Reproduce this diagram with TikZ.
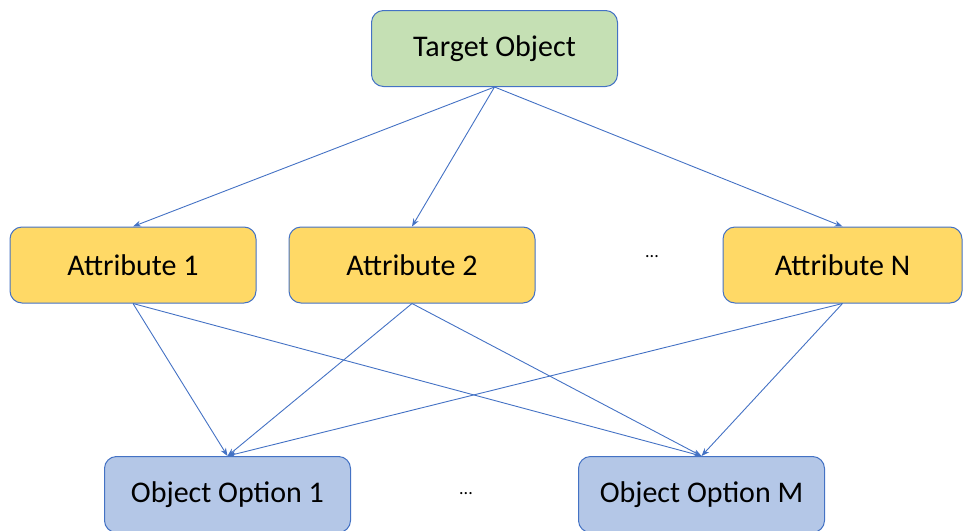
\documentclass[tikz,border=0pt]{standalone}
\usepackage{fontspec}
\setmainfont{Carlito}
\usetikzlibrary{arrows.meta}
\definecolor{boxline}{HTML}{4472C4}
\definecolor{greenfill}{HTML}{C5E0B4}
\definecolor{yellowfill}{HTML}{FFD966}
\definecolor{bluefill}{HTML}{B4C7E7}
\begin{document}
\begin{tikzpicture}[x=1pt,y=-1pt,
        box/.style={draw=boxline,line width=1pt,rounded corners=12pt,minimum width=246pt,minimum height=76pt,inner sep=0pt,font=\fontsize{30}{34}\selectfont},
        link/.style={draw=boxline,line width=0.9pt,-{Stealth[length=8pt,width=6pt]}}]
        \useasboundingbox (0,0) rectangle (963,530);
        \node [box,fill=greenfill] (target) at (494.5,48.5) {Target Object};
        \node [box,fill=yellowfill] (attr1) at (133,265) {Attribute 1};
        \node [box,fill=yellowfill] (attr2) at (412,265) {Attribute 2};
        \node [box,fill=yellowfill,minimum width=239pt] (attrN) at (842.5,265) {Attribute N};
        \node [font=\fontsize{18}{20}\selectfont] (dotsA) at (652,257) {...};
        \node [box,fill=bluefill] (opt1) at (227.5,494.5) {Object Option 1};
        \node [box,fill=bluefill] (optM) at (701.5,494.5) {Object Option M};
        \node [font=\fontsize{18}{20}\selectfont] (dotsO) at (466,494) {...};
        \draw [link] (target.south) -- (attr1.north);
        \draw [link] (target.south) -- (attr2.north);
        \draw [link] (target.south) -- (attrN.north);
        \foreach \a in {attr1,attr2,attrN} {
          \draw [link] (\a.south) -- (opt1.north);
          \draw [link] (\a.south) -- (optM.north);
        }
\end{tikzpicture}
\end{document}
